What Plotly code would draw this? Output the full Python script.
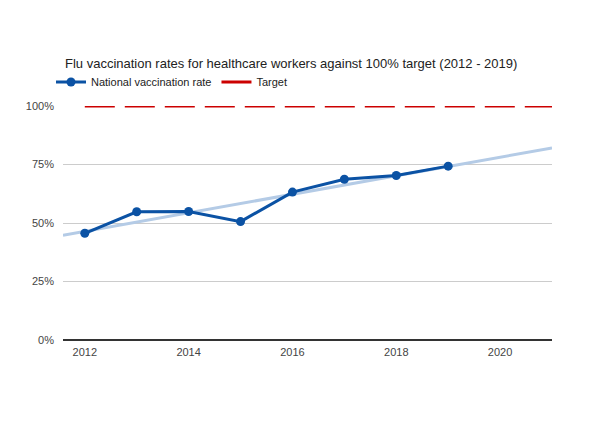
import numpy as np
import plotly.graph_objects as go

years = [2012, 2013, 2014, 2015, 2016, 2017, 2018, 2019]
rates = [45.6, 54.8, 54.9, 50.6, 63.2, 68.7, 70.3, 74.3]
target_years = [2012, 2013, 2014, 2015, 2016, 2017, 2018, 2019, 2020, 2021]
target_vals = [100] * len(target_years)
x_ticks = [2012, 2014, 2016, 2018, 2020]
y_ticks = [0, 25, 50, 75, 100]
y_labels = ["0%", "25%", "50%", "75%", "100%"]

x_min, x_max = 2011.58, 2021.0

slope, intercept = np.polyfit(years, rates, 1)
trend_x = [x_min, x_max]
trend_y = [slope * v + intercept for v in trend_x]

fig = go.Figure()
fig.add_trace(go.Scatter(x=trend_x, y=trend_y, mode="lines",
                         line=dict(color="#b4cbe6", width=3),
                         showlegend=False, hoverinfo="skip"))
fig.add_trace(go.Scatter(x=years, y=rates, mode="lines+markers",
                         name="National vaccination rate",
                         line=dict(color="#0b52a4", width=3),
                         marker=dict(size=9, color="#0b52a4")))
fig.add_trace(go.Scatter(x=target_years, y=target_vals, mode="lines",
                         name="Target",
                         line=dict(color="#cc0000", width=3, dash="30px,10px")))

fig.update_layout(
    width=610, height=421,
    margin=dict(l=55, r=66, t=98, b=89),
    paper_bgcolor="white", plot_bgcolor="white",
    font=dict(family="Arial, Liberation Sans, sans-serif", color="#444", size=11),
    title=dict(text="Flu vaccination rates for healthcare workers against 100% target (2012 - 2019)",
               x=57 / 610, xanchor="left", y=1 - 55 / 421, yanchor="middle",
               font=dict(size=13, color="#222")),
    legend=dict(orientation="h", x=-12 / 489, xanchor="left", y=1 + 24 / 234, yanchor="middle",
                font=dict(size=11, color="#222"),
                bgcolor="rgba(0,0,0,0)"),
    xaxis=dict(range=[x_min, x_max], tickvals=x_ticks, ticktext=[str(t) for t in x_ticks],
               showgrid=False, zeroline=False, showline=False, ticks="",
               ticklabelstandoff=4,
               tickfont=dict(size=11, color="#444")),
    yaxis=dict(range=[0, 100], tickvals=y_ticks, ticktext=y_labels,
               showgrid=True, gridcolor="#cccccc", gridwidth=1,
               zeroline=True, zerolinecolor="#333", zerolinewidth=1.5,
               showline=False, ticks="", ticklabelstandoff=8,
               tickfont=dict(size=11, color="#444")),
)

fig.write_html("out.html")
